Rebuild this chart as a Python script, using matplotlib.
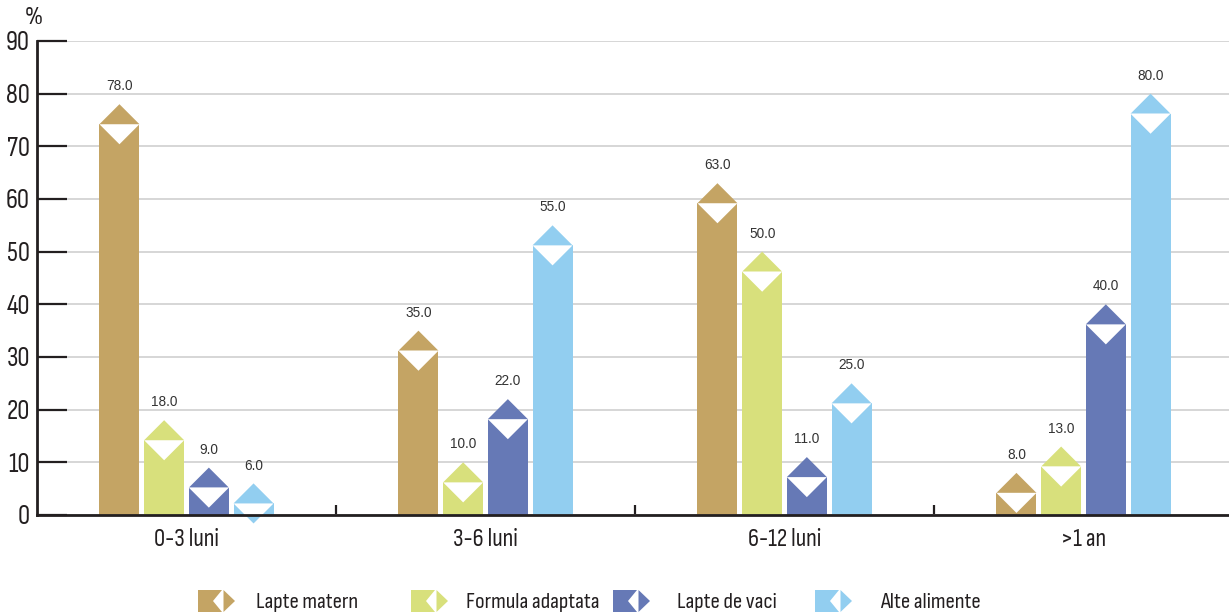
import matplotlib
matplotlib.use("Agg")
import matplotlib.pyplot as plt
from matplotlib.patches import Polygon, Rectangle
from matplotlib import font_manager

# ---- data ----
categories = ["0-3 luni", "3-6 luni", "6-12 luni", ">1 an"]
series_names = ["Lapte matern", "Formula adaptata", "Lapte de vaci", "Alte alimente"]
lapte_matern = [78.0, 35.0, 63.0, 8.0]
formula_adaptata = [18.0, 10.0, 50.0, 13.0]
lapte_de_vaci = [9.0, 22.0, 11.0, 40.0]
alte_alimente = [6.0, 55.0, 25.0, 80.0]
y_ticks = [0, 10, 20, 30, 40, 50, 60, 70, 80, 90]

series = [lapte_matern, formula_adaptata, lapte_de_vaci, alte_alimente]
colors = ["#C4A464", "#D8E07C", "#6679B6", "#92CEF0"]
dark = "#231f20"

available = {f.name for f in font_manager.fontManager.ttflist}


def pick(cands):
    for c in cands:
        if c in available:
            return c
    return "DejaVu Sans"


narrow = pick(["Sofia Sans Condensed", "PT Sans Narrow", "Barlow Semi Condensed"])
regular = pick(["Liberation Sans", "Arial", "DejaVu Sans"])

W, H = 1229, 616
fig = plt.figure(figsize=(W / 100, H / 100), dpi=100)

# axes placement (in pixels)
ax_left, ax_right, ax_y0, ax_ytop = 37, 1229, 515, 41
ax = fig.add_axes([ax_left / W, (H - ax_y0) / H,
                   (ax_right - ax_left) / W, (ax_y0 - ax_ytop) / H])
unit_px = 299.0
x_min = -0.5
x_max = x_min + (ax_right - ax_left) / unit_px
ax.set_xlim(x_min, x_max)
ax.set_ylim(0, 90)

step = 0.1495
bar_w = 0.134

# pixel scale, used to give the roof a 45 degree slope
px_per_x = (ax_right - ax_left) / (x_max - x_min)
px_per_y = (ax_y0 - ax_ytop) / 90.0
roof_h = (bar_w / 2) * px_per_x / px_per_y

for si, (vals, col) in enumerate(zip(series, colors)):
    for ci, v in enumerate(vals):
        x = ci + (si - 1.5) * step
        top = v - roof_h
        ax.bar(x, top, width=bar_w, color=col, edgecolor="none", zorder=3)
        xl, xr = x - bar_w / 2, x + bar_w / 2
        # coloured roof
        ax.add_patch(Polygon([(xl, top), (xr, top), (x, v)], closed=True,
                             facecolor=col, edgecolor="none", zorder=4))
        # white notch below the roof
        tip = top - roof_h
        if tip >= 0:
            ax.add_patch(Polygon([(xl, top), (xr, top), (x, tip)], closed=True,
                                 facecolor="white", edgecolor="none", zorder=4))
        else:
            d = (bar_w / 2) * (0 - tip) / roof_h
            ax.add_patch(Polygon([(xl, top), (xr, top), (x + d, 0), (x - d, 0)],
                                 closed=True, facecolor="white", edgecolor="none",
                                 zorder=4))
            ax.add_patch(Polygon([(x - d, 0), (x + d, 0), (x, tip)], closed=True,
                                 facecolor=col, edgecolor="none", zorder=4,
                                 clip_on=False))
        ax.annotate(f"{v:.1f}", (x, v), xytext=(0, 10), textcoords="offset points",
                    ha="center", va="baseline", fontsize=9.8, color="#333333",
                    family=regular, zorder=6)

# axes styling
for s in ["top", "right"]:
    ax.spines[s].set_visible(False)
for s in ["left", "bottom"]:
    ax.spines[s].set_color(dark)
    ax.spines[s].set_linewidth(2)
    ax.spines[s].set_zorder(7)

ax.set_yticks(y_ticks)
ax.set_yticklabels([str(t) for t in y_ticks])
ax.tick_params(axis="y", direction="in", length=21.6, width=1.6, color=dark,
               pad=5, labelsize=19.5, labelcolor=dark)
for lab in ax.get_yticklabels():
    lab.set_family(narrow)
    lab.set_weight(500)
ax.yaxis.grid(True, color="#d6d6d6", linewidth=1.4, zorder=0)
ax.set_axisbelow(True)

# category separators as major ticks, names as minor ticks
ax.set_xticks([0.5, 1.5, 2.5])
ax.set_xticklabels([])
ax.set_xticks(range(len(categories)), minor=True)
ax.set_xticklabels(categories, minor=True)
ax.tick_params(axis="x", which="major", direction="in", length=7.2, width=1.6,
               color=dark)
ax.tick_params(axis="x", which="minor", length=0, pad=9, labelsize=18,
               labelcolor=dark)
for lab in ax.get_xticklabels(minor=True):
    lab.set_family(narrow)
    lab.set_weight(500)

fig.text(34 / W, 1 - 17 / H, "%", ha="center", va="center", fontsize=18,
         color=dark, family=narrow, weight=500)

# legend drawn in pixel coordinates
lg = fig.add_axes([0, 0, 1, 1], zorder=10)
lg.set_xlim(0, W)
lg.set_ylim(H, 0)
lg.axis("off")
legend_x = [198, 411, 613, 815]
text_x = [256, 466, 677, 880]
ly0, ly1 = 590, 612
lym = (ly0 + ly1) / 2
for lx, tx, col, name in zip(legend_x, text_x, colors, series_names):
    lg.add_patch(Rectangle((lx, ly0), 24, ly1 - ly0, facecolor=col, edgecolor="none"))
    lg.add_patch(Polygon([(lx + 24, ly0), (lx + 24, ly1), (lx + 15, lym)],
                         closed=True, facecolor="white", edgecolor="none"))
    lg.add_patch(Polygon([(lx + 25.5, ly0), (lx + 25.5, ly1), (lx + 37, lym)],
                         closed=True, facecolor=col, edgecolor="none"))
    lg.text(tx, lym + 2, name, ha="left", va="center", fontsize=16.5, color=dark,
            family=narrow, weight=500)

fig.savefig("out.png", dpi=100)
